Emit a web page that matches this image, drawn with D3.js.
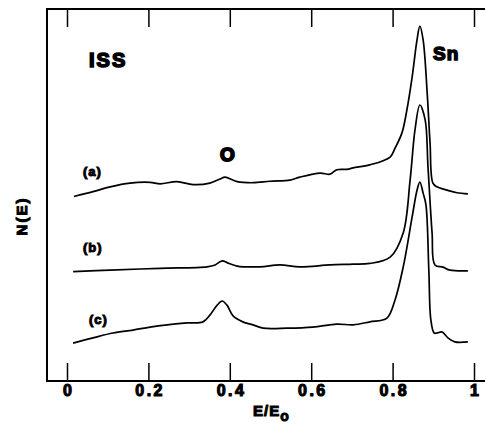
<!DOCTYPE html>
<html>
<head>
<meta charset="utf-8">
<script src="https://cdn.jsdelivr.net/npm/d3@7"></script>
<style>
  body { margin: 0; background: #fff; }
  svg { display: block; }
  text { font-family: "Liberation Sans", Arial, sans-serif; font-weight: bold; fill: #000; }
</style>
</head>
<body>
<svg id="chart" width="485" height="437"></svg>
<script>
// E/E0 positions and N(E) (arbitrary units, traces already offset)
var eA = [0.017,0.064,0.106,0.155,0.204,0.229,0.270,0.310,0.351,0.376,0.388,0.418,0.457,0.499,0.548,0.572,0.622,0.646,0.663,0.688,0.703,0.744,0.794,0.806,0.823,0.835,0.848,0.860,0.867,0.875,0.885,0.892,0.899,0.909,0.934,0.958,0.985];
var nA = [49.6,50.9,52.2,53.2,53.4,53.0,53.6,52.8,53.2,54.3,54.8,53.6,53.3,53.7,54.0,54.8,55.9,55.6,56.8,56.9,57.3,58.1,60.2,62.6,66.7,72.8,81.7,91.7,95.4,91.7,77.4,64.0,53.2,52.2,51.3,50.6,50.3];

var eB = [0.015,0.106,0.229,0.344,0.364,0.381,0.396,0.418,0.474,0.523,0.572,0.646,0.703,0.744,0.794,0.826,0.843,0.855,0.867,0.880,0.887,0.897,0.904,0.924,0.941,0.985];
var nB = [29.4,29.8,30.3,30.7,31.2,32.3,31.7,30.9,30.7,31.2,30.7,31.2,31.4,31.6,33.3,39.8,54.0,67.5,74.2,70.2,57.5,39.8,31.2,30.6,29.8,29.6];

var eC = [0.015,0.064,0.113,0.162,0.204,0.246,0.295,0.334,0.351,0.369,0.381,0.393,0.408,0.432,0.457,0.482,0.541,0.604,0.663,0.703,0.744,0.786,0.806,0.826,0.848,0.860,0.867,0.875,0.882,0.889,0.894,0.902,0.909,0.921,0.936,0.953,0.985];
var nC = [10.2,11.6,12.9,13.7,14.5,15.1,15.6,15.9,17.7,20.4,21.5,20.4,17.5,15.9,15.1,14.2,14.2,14.5,15.3,15.1,15.9,16.9,21.8,30.6,44.1,51.3,53.5,50.5,47.3,29.8,16.4,12.9,12.9,13.2,11.6,10.5,10.5];

var xTicks = [0, 0.2, 0.4, 0.6, 0.8, 1];
var xTickLabels = ["0", "0.2", "0.4", "0.6", "0.8", "1"];

var svg = d3.select("#chart");

var fLeft = 47, fTop = 9, fBottom = 381, fRight = 492;

var x = d3.scaleLinear().domain([0, 1]).range([67, 474]);
var y = d3.scaleLinear().domain([0, 100]).range([fBottom, fTop]);

// frame
svg.append("path")
  .attr("d", "M" + fRight + "," + fTop + "H" + fLeft + "V" + fBottom + "H" + fRight)
  .attr("fill", "none")
  .attr("stroke", "#000")
  .attr("stroke-width", 2);

// bottom axis, ticks pointing in
var axB = svg.append("g")
  .attr("transform", "translate(0," + fBottom + ")")
  .call(d3.axisBottom(x).tickValues(xTicks)
    .tickFormat(function(d, i){ return xTickLabels[i]; })
    .tickSize(-18).tickPadding(4));
axB.select(".domain").remove();
axB.selectAll(".tick line").attr("stroke-width", 1.5);
axB.selectAll(".tick text")
  .attr("font-size", 16)
  .attr("font-family", "Liberation Sans, Arial, sans-serif")
  .attr("font-weight", "bold")
  .attr("letter-spacing", 2.5)
  .attr("dx", 1.2)
  .attr("fill", "#000")
  .attr("stroke", "#000").attr("stroke-width", 1.1);

// top axis, ticks pointing in
var axT = svg.append("g")
  .attr("transform", "translate(0," + fTop + ")")
  .call(d3.axisTop(x).tickValues(xTicks).tickFormat("").tickSize(-18));
axT.select(".domain").remove();
axT.selectAll(".tick line").attr("stroke-width", 1.5);

// spectra
var line = d3.line()
  .x(function(d){ return x(d[0]); })
  .y(function(d){ return y(d[1]); })
  .curve(d3.curveCatmullRom.alpha(0.5));

[[eA, nA], [eB, nB], [eC, nC]].forEach(function(s){
  svg.append("path")
    .datum(d3.zip(s[0], s[1]))
    .attr("d", line)
    .attr("fill", "none")
    .attr("stroke", "#000")
    .attr("stroke-width", 1.7)
    .attr("stroke-linejoin", "round");
});

function label(txt, px, py, size, ls, sw){
  return svg.append("text")
    .attr("x", px).attr("y", py)
    .attr("font-size", size)
    .attr("letter-spacing", ls || 0)
    .attr("stroke", "#000").attr("stroke-width", sw || 1.2)
    .text(txt);
}

label("ISS", 89, 67, 20, 2, 1.6);
label("Sn", 433, 60, 19, 1, 1.5);
label("O", 220, 161, 19, 0, 1.8);
label("(a)", 83, 176, 13, 1, 1);
label("(b)", 83, 252, 13, 1, 1);
label("(c)", 89, 324, 13, 1, 1);

// axis titles
var xt = svg.append("text")
  .attr("x", 253).attr("y", 416)
  .attr("font-size", 15)
  .attr("letter-spacing", 1)
  .attr("stroke", "#000").attr("stroke-width", 1);
xt.append("tspan").text("E/E");
xt.append("tspan").attr("dy", 5).attr("font-size", 14).text("o");

svg.append("text")
  .attr("transform", "translate(27,216) rotate(-90)")
  .attr("text-anchor", "middle")
  .attr("font-size", 15)
  .attr("letter-spacing", 2)
  .attr("stroke", "#000").attr("stroke-width", 1)
  .text("N(E)");
</script>
</body>
</html>
